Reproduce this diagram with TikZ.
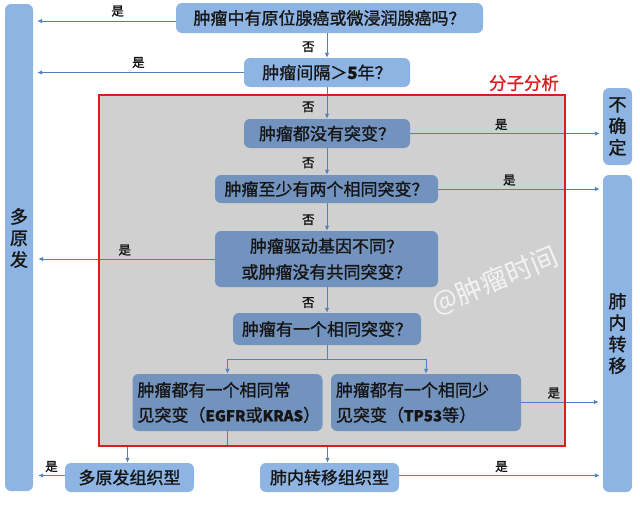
\documentclass[tikz,border=0pt]{standalone}
\usepackage{fontspec}
\setmainfont{Noto Sans CJK SC}[FakeBold=1.2]
\newfontfamily\plainfont{Noto Sans CJK SC}
\usetikzlibrary{arrows.meta}
\definecolor{lblue}{HTML}{8DB4E2}
\definecolor{dblue}{HTML}{7393BF}
\definecolor{grayfill}{HTML}{D0D0D0}
\definecolor{redline}{HTML}{D81E1E}
\definecolor{lnblue}{HTML}{4F81BD}
\definecolor{txt}{HTML}{151515}
\newcommand\latn[1]{{\fontsize{15}{18}\selectfont\textbf{#1}}}
\tikzset{
  lbox/.style={fill=lblue, rounded corners=6pt, inner sep=0pt, text=txt, font=\fontsize{17}{21}\selectfont},
  dbox/.style={fill=dblue, rounded corners=6pt, inner sep=0pt, text=txt, font=\fontsize{17}{21}\selectfont},
  vtext/.style={text=txt, font=\fontsize{18}{21.5}\selectfont, align=center, inner sep=0pt},
  lbl/.style={text=txt, font=\fontsize{12.5}{14}\selectfont, inner sep=0pt},
  ln/.style={draw=lnblue, line width=0.9pt},
  arr/.style={ln, -{Latex[length=5pt,width=4.5pt]}},
}
\begin{document}
\begin{tikzpicture}[x=1pt,y=-1pt]
\useasboundingbox (0,0) rectangle (640,507);
% red analysis area (fill)
\fill[grayfill] (99,95) rectangle (565,446);
\node[text=redline, font=\fontsize{17.5}{20}\selectfont, inner sep=0pt] (ana) at (524,83) {分子分析};
% side boxes
\node[lbox, minimum width=28pt, minimum height=487pt] (lt) at (19,247.5) {};
\node[vtext] (lttext) at (19,238) {多\\原\\发};
\node[lbox, minimum width=29pt, minimum height=77pt, font=\fontsize{18}{21.5}\selectfont, align=center] (rt1) at (617.5,126.5) {不\\确\\定};
\node[lbox, minimum width=29pt, minimum height=317pt, font=\fontsize{18}{21.5}\selectfont, align=center] (rt2) at (617.5,333.5) {肺\\内\\转\\移};
% question boxes
\node[lbox, minimum width=307pt, minimum height=30pt] (q1) at (329.5,18) {肿瘤中有原位腺癌或微浸润腺癌吗？};
\node[lbox, minimum width=166pt, minimum height=29pt] (q2) at (327,72.5) {肿瘤间隔＞\textbf{5}年？};
\node[dbox, minimum width=166pt, minimum height=29pt] (q3) at (327,133.5) {肿瘤都没有突变？};
\node[dbox, minimum width=223pt, minimum height=28pt] (q4) at (326.5,189) {肿瘤至少有两个相同突变？};
\node[dbox, minimum width=223pt, minimum height=56pt, align=center, font=\fontsize{17}{26}\selectfont] (q5) at (326.5,259) {肿瘤驱动基因不同？\\或肿瘤没有共同突变？};
\node[dbox, minimum width=188pt, minimum height=32pt] (q6) at (327,329) {肿瘤有一个相同突变？};
\node[dbox, minimum height=57pt, text width=180pt, inner xsep=5pt, align=left, font=\fontsize{17}{25}\selectfont] (q7) at (227.5,402.5) {肿瘤都有一个相同常\\见突变（\latn{EGFR}或\latn{KRAS}）};
\node[dbox, minimum height=57pt, text width=180pt, inner xsep=5pt, align=left, font=\fontsize{17}{25}\selectfont] (q8) at (426,402.5) {肿瘤都有一个相同少\\见突变（\latn{TP53}等）};
\node[lbox, minimum width=129pt, minimum height=29pt] (b1) at (129.5,477.5) {多原发组织型};
\node[lbox, minimum width=139pt, minimum height=29pt] (b2) at (329.5,477.5) {肺内转移组织型};
% watermark
\node[text=white, opacity=0.75, rotate=22.5, font=\plainfont\fontsize{27}{30}\selectfont, inner sep=0pt] (wm) at (495,281) {@肿瘤时间};
% connectors: vertical chain
\draw[arr] (q1.south -| q2.north) -- (q2.north) node[lbl, pos=0.55, left=12pt] (n1) {否};
\draw[arr] (q2.south) -- (q3.north) node[lbl, pos=0.62, left=12pt] (n2) {否};
\draw[arr] (q3.south) -- (q4.north -| q3.south) node[lbl, pos=0.55, left=12pt] (n3) {否};
\draw[arr] (q4.south -| q3.south) -- (q5.north -| q3.south) node[lbl, pos=0.6, left=12pt] (n4) {否};
\draw[arr] (q5.south -| q3.south) -- (q6.north) node[lbl, pos=0.6, left=12pt] (n5) {否};
% left "yes" arrows
\draw[arr] ([yshift=-3pt]q1.west) -- ([xshift=4pt,yshift=-3pt]q1.west -| lt.east) node[lbl, pos=0.42, above=4pt] (y1) {是};
\draw[arr] (q2.west) -- ([xshift=4pt]q2.west -| lt.east) node[lbl, pos=0.51, above=4pt] (y2) {是};
\draw[arr] (q5.west) -- ([xshift=5pt]q5.west -| lt.east) node[lbl, pos=0.51, above=3pt] (y3) {是};
\draw[arr] ([yshift=2pt]b1.west) -- ([xshift=5pt,yshift=2pt]b1.west -| lt.east) node[lbl, pos=0.5, above=3pt] (y4) {是};
% right "yes" arrows
\draw[arr] (q3.east) -- ([xshift=-3pt]q3.east -| rt1.west) node[lbl, pos=0.48, above=3pt] (y5) {是};
\draw[arr] (q4.east) -- ([xshift=-3pt]q4.east -| rt2.west) node[lbl, pos=0.44, above=3pt] (y6) {是};
\draw[arr] ([yshift=0.5pt]q8.east) -- ([xshift=-4pt,yshift=0.5pt]q8.east -| rt2.west) node[lbl, pos=0.42, above=3pt] (y7) {是};
\draw[arr] ([yshift=2pt]b2.east) -- ([xshift=-3pt,yshift=2pt]b2.east -| rt2.west) node[lbl, pos=0.51, above=3pt] (y8) {是};
% split from q6
\coordinate (s6) at ([yshift=-14pt]q6.south);
\draw[ln] (q6.south) -- (s6);
\draw[arr] (s6) -| (q7.north);
\draw[arr] (s6) -| (q8.north);
% from q7 to bottom boxes
\coordinate (s7) at (q7.south |- 0,446);
\draw[ln] (q7.south) -- (s7);
\draw[ln] ([xshift=-2pt]b1.north |- s7) -- ([xshift=-2pt]b2.north |- s7);
\draw[arr] ([xshift=-2pt]b1.north |- s7) -- ([xshift=-2pt]b1.north);
\draw[arr] ([xshift=-2pt]b2.north |- s7) -- ([xshift=-2pt]b2.north);
% red border on top
\draw[redline, line width=2pt] (99,95) rectangle (565,446);
\end{tikzpicture}
\end{document}
